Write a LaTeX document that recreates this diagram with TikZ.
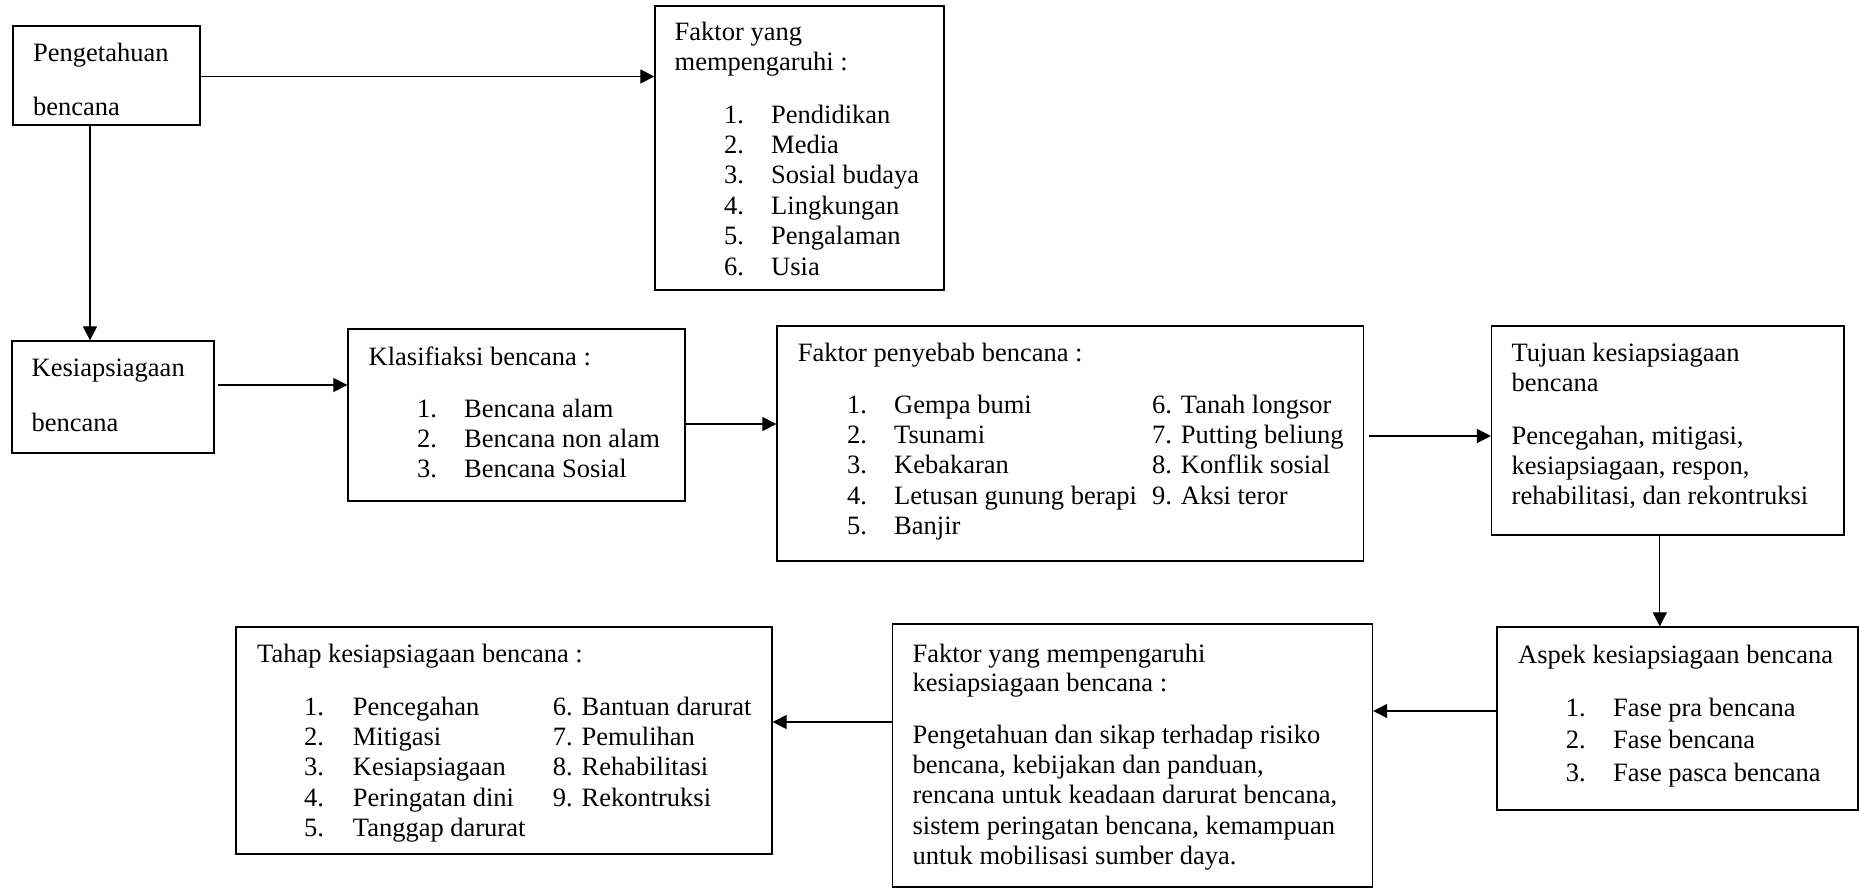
\documentclass[tikz,border=0pt]{standalone}
\usepackage{fontspec}
\setmainfont{Liberation Serif}
\usetikzlibrary{arrows.meta}
\begin{document}
\begin{tikzpicture}[x=1pt,y=-1pt,
 box/.style={draw, line width=1.3pt, inner sep=0pt, rectangle},
 txt/.style={inner sep=0pt, anchor=base west, align=left, font=\fontsize{26.5}{30.4}\selectfont},
 arr/.style={line width=1.2pt, -{Triangle[length=14pt,width=14pt]}}]
\useasboundingbox (0,0) rectangle (1859,889);
% boxes
\node[box, minimum width=187pt, minimum height=99pt] (b1) at (106.5,75.5) {};
\node[box, minimum width=289pt, minimum height=284pt] (b2) at (799.5,148) {};
\node[box, minimum width=202pt, minimum height=112pt] (kesi) at (113,397) {};
\node[box, minimum width=337pt, minimum height=172pt] (klas) at (516.5,415) {};
\node[box, minimum width=586.5pt, minimum height=235pt] (pen) at (1070.25,443.5) {};
\node[box, minimum width=352.4pt, minimum height=209pt] (tuj) at (1667.8,430.5) {};
\node[box, minimum width=361pt, minimum height=183pt] (asp) at (1677.5,718.5) {};
\node[box, minimum width=480pt, minimum height=263pt] (fk) at (1132.5,755.5) {};
\node[box, minimum width=536pt, minimum height=227pt] (tah) at (504,740.5) {};
% texts (base anchor = baseline of the last line)
\node[txt] (t1a) at (33,61) {Pengetahuan};
\node[txt] (t1b) at (33,115) {bencana};
\node[txt] (t2h) at (674.5,70.4) {Faktor yang\\mempengaruhi :};
\node[txt] (t2n) at (724,275) {1.\\2.\\3.\\4.\\5.\\6.};
\node[txt] (t2i) at (771,275) {Pendidikan\\Media\\Sosial budaya\\Lingkungan\\Pengalaman\\Usia};
\node[txt] (tka) at (31.5,376) {Kesiapsiagaan};
\node[txt] (tkb) at (31.5,431) {bencana};
\node[txt] (tlh) at (368.5,365) {Klasifiaksi bencana :};
\node[txt] (tln) at (417,477.8) {1.\\2.\\3.};
\node[txt] (tli) at (464,477.8) {Bencana alam\\Bencana non alam\\Bencana Sosial};
\node[txt] (tph) at (797.6,361) {Faktor penyebab bencana :};
\node[txt] (tpn) at (847,534.6) {1.\\2.\\3.\\4.\\5.};
\node[txt] (tpi) at (894,534.6) {Gempa bumi\\Tsunami\\Kebakaran\\Letusan gunung berapi\\Banjir};
\node[txt] (tpj) at (1152,504.2) {6. Tanah longsor\\7. Putting beliung\\8. Konflik sosial\\9. Aksi teror};
\node[txt] (tth) at (1511.5,391.4) {Tujuan kesiapsiagaan\\bencana};
\node[txt, font=\fontsize{26.5}{30}\selectfont] (ttb) at (1511.5,504) {Pencegahan, mitigasi,\\kesiapsiagaan, respon,\\rehabilitasi, dan rekontruksi};
\node[txt, font=\fontsize{26.5}{29}\selectfont] (tfh) at (912.4,691) {Faktor yang mempengaruhi\\kesiapsiagaan bencana :};
\node[txt] (tfb) at (912.4,864.6) {Pengetahuan dan sikap terhadap risiko\\bencana, kebijakan dan panduan,\\rencana untuk keadaan darurat bencana,\\sistem peringatan bencana, kemampuan\\untuk mobilisasi sumber daya.};
\node[txt] (tah1) at (1518,663) {Aspek kesiapsiagaan bencana};
\node[txt, font=\fontsize{26.5}{32.7}\selectfont] (tan) at (1565.6,781.4) {1.\\2.\\3.};
\node[txt, font=\fontsize{26.5}{32.7}\selectfont] (tai) at (1613,781.4) {Fase pra bencana\\Fase bencana\\Fase pasca bencana};
\node[txt] (tth1) at (257,662) {Tahap kesiapsiagaan bencana :};
\node[txt] (ttn) at (304,836.6) {1.\\2.\\3.\\4.\\5.};
\node[txt] (tti) at (352.7,836.6) {Pencegahan\\Mitigasi\\Kesiapsiagaan\\Peringatan dini\\Tanggap darurat};
\node[txt] (ttj) at (552.7,806.2) {6. Bantuan darurat\\7. Pemulihan\\8. Rehabilitasi\\9. Rekontruksi};
% connectors
\draw[arr] ([yshift=-1pt]b1.east) -- ([yshift=-1pt]b1.east -| b2.west);
\draw[arr] ([xshift=-16.5pt]b1.south) -- ([xshift=-16.5pt]b1.south |- kesi.north);
\draw[arr] ([yshift=12pt,xshift=3pt]kesi.east) -- ([yshift=12pt]kesi.east -| klas.west);
\draw[arr] ([yshift=-9pt]klas.east) -- ([yshift=-9pt]klas.east -| pen.west);
\draw[arr] ([yshift=7.5pt,xshift=5pt]pen.east) -- ([yshift=7.5pt]pen.east -| tuj.west);
\draw[arr] ([xshift=-8pt]tuj.south) -- ([xshift=-8pt]tuj.south |- asp.north);
\draw[arr] ([yshift=7.5pt]asp.west) -- ([yshift=7.5pt]asp.west -| fk.east);
\draw[arr] ([yshift=33.5pt]fk.west) -- ([yshift=33.5pt]fk.west -| tah.east);
\end{tikzpicture}
\end{document}
